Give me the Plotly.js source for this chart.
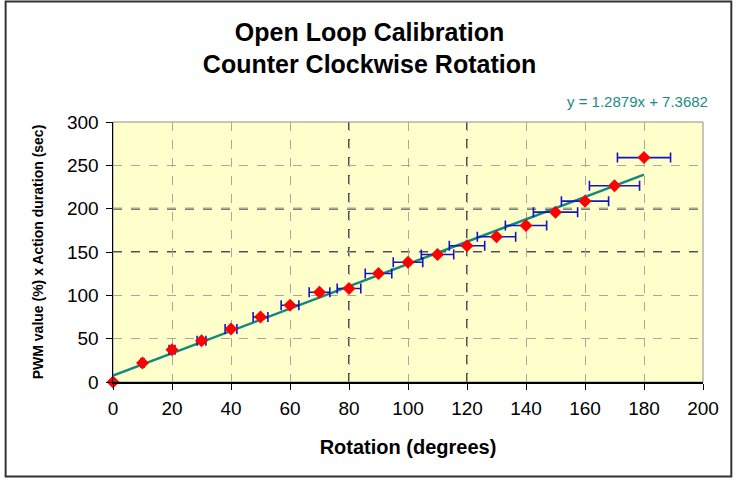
<!DOCTYPE html>
<html>
<head>
<meta charset="utf-8">
<script src="https://cdn.plot.ly/plotly-3.0.1.min.js"></script>
<style>html,body{margin:0;padding:0;background:#fff;}#chart{width:738px;height:486px;}</style>
</head>
<body>
<div id="chart"></div>
<script>
// Data
const rotation = [0, 10, 20, 30, 40, 50, 60, 70, 80, 90, 100, 110, 120, 130, 140, 150, 160, 170, 180];
const pwmDuration = [0, 22.0, 37.3, 47.7, 61.2, 75.1, 88.5, 103.6, 107.8, 125.2, 138.2, 147.1, 157.2, 167.6, 180.6, 196.0, 208.7, 226.5, 258.9];
const errorPercent = 5;
const slope = 1.2879;
const intercept = 7.3682;
const trendX = [0, 180];
const trendY = trendX.map(x => slope * x + intercept);
const darkGridX = [80, 120];
const darkGridY = [150, 200];
const xTicks = [0, 20, 40, 60, 80, 100, 120, 140, 160, 180, 200];
const yTicks = [0, 50, 100, 150, 200, 250, 300];

const FONT = 'Liberation Sans, Arial, sans-serif';

const traces = [
  {
    x: trendX, y: trendY, type: 'scatter', mode: 'lines',
    line: {color: '#13897D', width: 2.5}, hoverinfo: 'skip', cliponaxis: false
  },
  {
    x: rotation, y: pwmDuration, type: 'scatter', mode: 'markers',
    marker: {symbol: 'diamond', color: '#FF0000', size: 10},
    error_x: {type: 'percent', value: errorPercent, color: '#1414C4', thickness: 1.6, width: 5},
    cliponaxis: false
  }
];

const shapes = [];
darkGridX.forEach(v => shapes.push({type: 'line', xref: 'x', yref: 'paper', x0: v, x1: v, y0: 0, y1: 1,
  line: {color: '#505050', width: 2, dash: 'dash'}, layer: 'between'}));
darkGridY.forEach(v => shapes.push({type: 'line', xref: 'paper', yref: 'y', x0: 0, x1: 1, y0: v, y1: v,
  line: {color: '#505050', width: 2, dash: 'dash'}, layer: 'between'}));
// plot area frame (top/right grey)
shapes.push({type: 'rect', xref: 'paper', yref: 'paper', x0: 0, x1: 1, y0: 0, y1: 1,
  line: {color: '#8C8C8C', width: 1}, fillcolor: 'rgba(0,0,0,0)', layer: 'between'});
// outer chart border
shapes.push({type: 'rect', xref: 'paper', yref: 'paper', x0: -0.182, x1: 1.048, y0: -0.363, y1: 1.463,
  line: {color: '#333333', width: 2}, fillcolor: 'rgba(0,0,0,0)', layer: 'above'});

const layout = {
  width: 738, height: 486,
  margin: {l: 113, r: 35, t: 122, b: 104},
  paper_bgcolor: '#FFFFFF', plot_bgcolor: '#FFFFCC',
  showlegend: false,
  font: {family: FONT, color: '#000000'},
  title: {
    text: 'Open Loop Calibration<br>Counter Clockwise Rotation',
    font: {family: FONT, size: 25, weight: 'bold', color: '#000000'},
    x: 0.5007, xref: 'container', xanchor: 'center',
    y: 0.916, yref: 'container', yanchor: 'top'
  },
  xaxis: {
    range: [0, 200], tickvals: xTicks, ticktext: xTicks.map(String),
    showgrid: true, gridcolor: '#A8A8A0', griddash: 'dash', gridwidth: 1,
    zeroline: false, showline: true, linecolor: '#000000', linewidth: 1.5,
    ticks: 'outside', ticklen: 6, tickcolor: '#000000', tickwidth: 1,
    ticklabelstandoff: 3,
    tickfont: {family: FONT, size: 19, color: '#000000'},
    title: {text: 'Rotation (degrees)', font: {family: FONT, size: 20, weight: 'bold', color: '#000000'}, standoff: 21},
    fixedrange: true
  },
  yaxis: {
    range: [0, 300], tickvals: yTicks, ticktext: yTicks.map(String),
    showgrid: true, gridcolor: '#A8A8A0', griddash: 'dash', gridwidth: 1,
    zeroline: false, showline: true, linecolor: '#000000', linewidth: 1.5,
    ticks: 'outside', ticklen: 6, tickcolor: '#000000', tickwidth: 1,
    ticklabelstandoff: 3,
    tickfont: {family: FONT, size: 19, color: '#000000'},
    title: {text: 'PWM value (%) x Action duration (sec)', font: {family: FONT, size: 14, weight: 'bold', color: '#000000'}, standoff: 20},
    fixedrange: true
  },
  shapes: shapes,
  annotations: [{
    text: 'y = 1.2879x + 7.3682', xref: 'paper', yref: 'paper',
    x: 1.012, y: 1.078, xanchor: 'right', yanchor: 'middle', showarrow: false,
    font: {family: FONT, size: 15, color: '#1A8C80'}
  }]
};

Plotly.newPlot('chart', traces, layout, {displayModeBar: false, staticPlot: true});
</script>
</body>
</html>
